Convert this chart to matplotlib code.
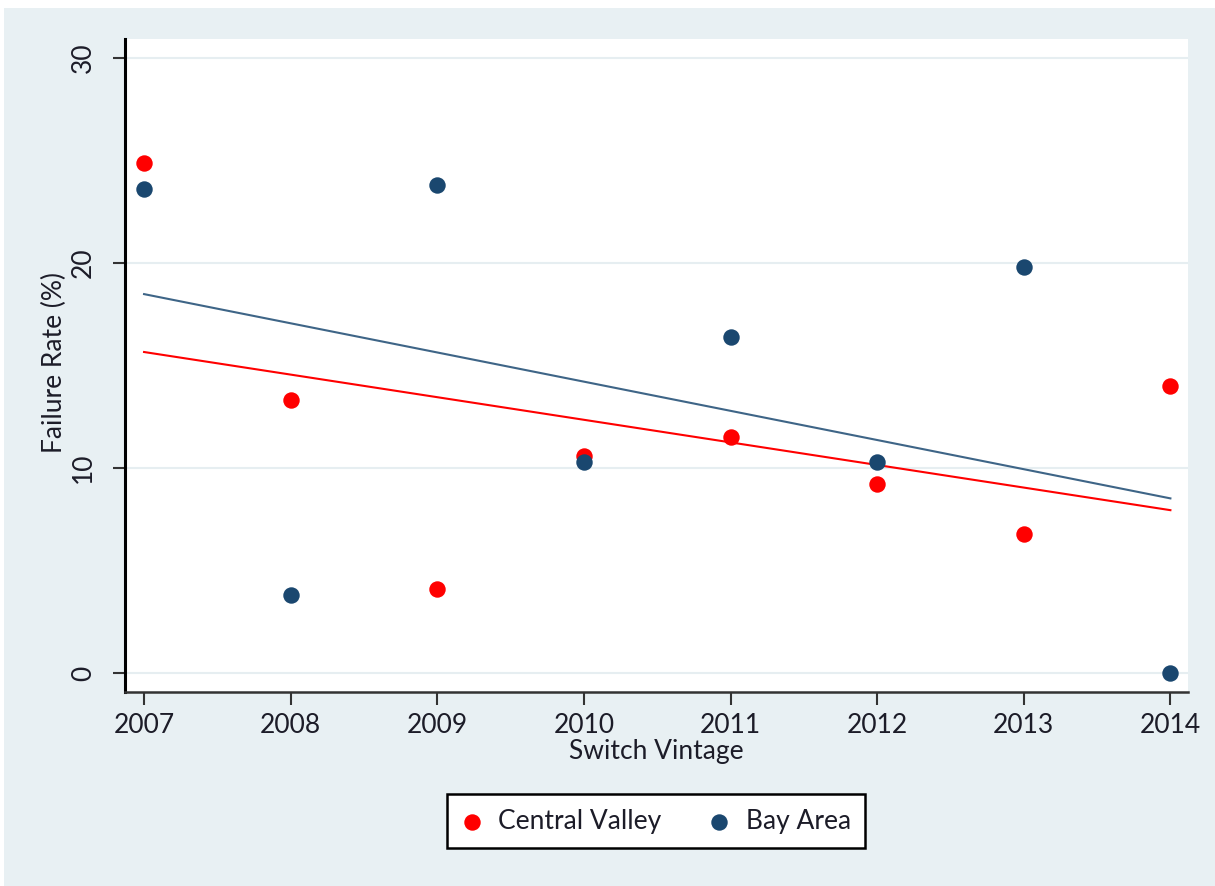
import numpy as np
import matplotlib
matplotlib.use("Agg")
import matplotlib.pyplot as plt
from matplotlib.patches import Rectangle

# data (failure rate in %)
years = [2007, 2008, 2009, 2010, 2011, 2012, 2013, 2014]
central_valley = [24.9, 13.3, 4.1, 10.6, 11.5, 9.2, 6.8, 14.0]
bay_area = [23.6, 3.8, 23.8, 10.3, 16.4, 10.3, 19.8, 0.0]
y_ticks = [0, 10, 20, 30]

RED = "#ff0000"
NAVY = "#1a476f"
NAVY_LINE = "#3e6587"
OUTER_BG = "#e8f0f3"
GRID = "#e6eef1"
TEXT = "#1c1c28"

plt.rcParams["font.family"] = ["Lato", "DejaVu Sans"]

fig = plt.figure(figsize=(12.15, 8.86), dpi=100)
fig.patch.set_facecolor("white")
# light outer frame like a Stata graph region
fig.patches.append(Rectangle((4 / 1215, 0), 1 - 4 / 1215, 1 - 8 / 886,
                             transform=fig.transFigure, facecolor=OUTER_BG,
                             edgecolor="none", zorder=-10))

ax = fig.add_axes([125 / 1215, 1 - 692 / 886, (1188 - 125) / 1215, (692 - 39) / 886])
ax.set_facecolor("white")

x = np.array(years, dtype=float)
for vals, lcol in [(central_valley, RED), (bay_area, NAVY_LINE)]:
    k, b = np.polyfit(x, vals, 1)
    ax.plot([x[0], x[-1]], [k * x[0] + b, k * x[-1] + b], color=lcol, lw=1.5, zorder=2)

ax.scatter(years, central_valley, s=140, color=RED, zorder=3, label="Central Valley",
           linewidths=0)
ax.scatter(years, bay_area, s=140, color=NAVY, zorder=3, label="Bay Area",
           linewidths=0)

ax.set_xlim(2006.87, 2014.12)
ax.set_ylim(-0.93, 30.93)
ax.set_xticks(years)
ax.set_yticks(y_ticks)
ax.set_yticklabels([str(t) for t in y_ticks], rotation=90, va="center")
ax.yaxis.grid(True, color=GRID, lw=1.5)
ax.set_axisbelow(True)

for s in ["top", "right"]:
    ax.spines[s].set_visible(False)
ax.spines["left"].set_linewidth(2.2)
ax.spines["left"].set_color("black")
ax.spines["bottom"].set_linewidth(1.8)
ax.spines["bottom"].set_color("#333333")

ax.tick_params(axis="both", length=9, width=1.5, color="#333333",
               labelsize=19, labelcolor=TEXT)
ax.tick_params(axis="y", pad=12)
ax.tick_params(axis="x", pad=6)

ax.set_xlabel("Switch Vintage", fontsize=19, color=TEXT, labelpad=1)
ax.set_ylabel("Failure Rate (%)", fontsize=19, color=TEXT)
ax.yaxis.set_label_coords(-0.055, 0.505)

leg = fig.legend(loc="center", bbox_to_anchor=(656 / 1215, 1 - 821 / 886), ncol=2,
                 fontsize=19, frameon=True, fancybox=False, edgecolor="black",
                 framealpha=1, handlelength=0.8, handletextpad=0.6,
                 columnspacing=1.8, borderpad=0.55, borderaxespad=0,
                 labelcolor=TEXT)
leg.get_frame().set_linewidth(1.8)

fig.savefig("out.png", dpi=100, facecolor=fig.get_facecolor())
